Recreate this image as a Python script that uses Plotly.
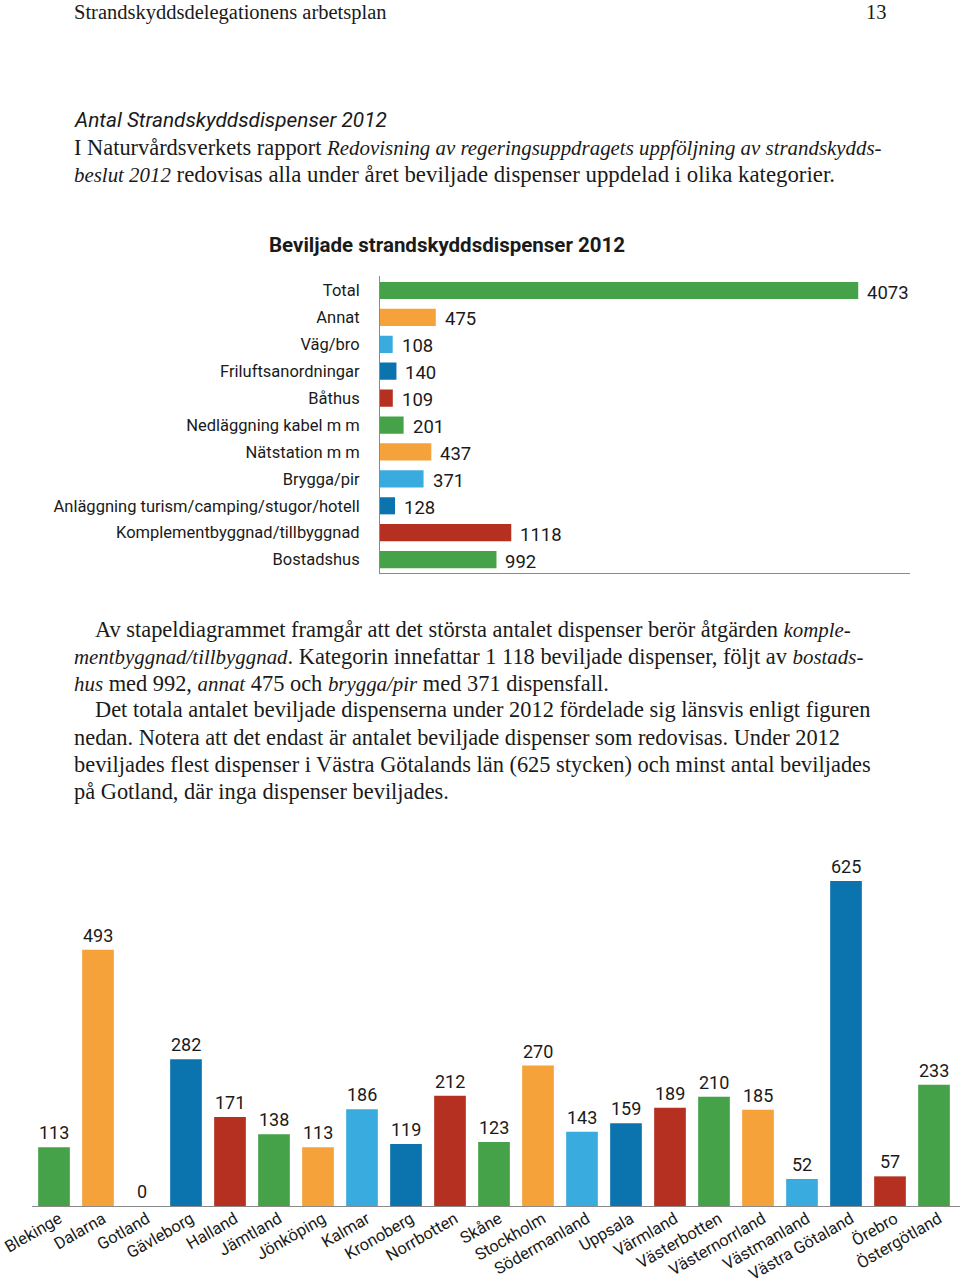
import plotly.graph_objects as go

PAGE_W, PAGE_H = 960, 1281
W, H = PAGE_W, PAGE_H

# ---------------- data ----------------
h_categories = ["Total", "Annat", "Väg/bro", "Friluftsanordningar", "Båthus",
                "Nedläggning kabel m m", "Nätstation m m", "Brygga/pir",
                "Anläggning turism/camping/stugor/hotell",
                "Komplementbyggnad/tillbyggnad", "Bostadshus"]
h_values = [4073, 475, 108, 140, 109, 201, 437, 371, 128, 1118, 992]

v_categories = ["Blekinge", "Dalarna", "Gotland", "Gävleborg", "Halland", "Jämtland",
                "Jönköping", "Kalmar", "Kronoberg", "Norrbotten", "Skåne", "Stockholm",
                "Södermanland", "Uppsala", "Värmland", "Västerbotten", "Västernorrland",
                "Västmanland", "Västra Götaland", "Örebro", "Östergötland"]
v_values = [113, 493, 0, 282, 171, 138, 113, 186, 119, 212, 123, 270,
            143, 159, 189, 210, 185, 52, 625, 57, 233]

GREEN, ORANGE, LBLUE, DBLUE, RED = "#45a248", "#f5a23b", "#3aabdf", "#0b73ae", "#b53020"
h_colors = [GREEN, ORANGE, LBLUE, DBLUE, RED, GREEN, ORANGE, LBLUE, DBLUE, RED, GREEN]
cycle = [GREEN, ORANGE, LBLUE, DBLUE, RED]
v_colors = [cycle[i % 5] for i in range(len(v_categories))]

SANS = "Roboto, Liberation Sans, sans-serif"
SERIF = "Liberation Serif, DejaVu Serif, serif"
TXT = "#1a1a1a"


def fx(px):
    return px / W


def fy(px):
    return 1 - px / H


fig = go.Figure()

# horizontal bar chart
fig.add_trace(go.Bar(
    x=h_values, y=h_categories, orientation="h",
    marker=dict(color=h_colors, line=dict(width=0)),
    xaxis="x", yaxis="y", showlegend=False, hoverinfo="x+y"))

# vertical bar chart
fig.add_trace(go.Bar(
    x=v_categories, y=v_values, width=0.72,
    marker=dict(color=v_colors, line=dict(width=0)),
    xaxis="x2", yaxis="y2", showlegend=False, hoverinfo="x+y"))

annotations = []
# value labels horizontal
for c, v in zip(h_categories, h_values):
    annotations.append(dict(x=v, y=c, xref="x", yref="y", text=str(v),
                            showarrow=False, xanchor="left", yanchor="middle",
                            xshift=7, yshift=-2,
                            font=dict(family=SANS, size=18.5, color=TXT)))
# value labels vertical
for c, v in zip(v_categories, v_values):
    annotations.append(dict(x=c, y=v, xref="x2", yref="y2", text=str(v),
                            showarrow=False, xanchor="center", yanchor="bottom",
                            yshift=2,
                            font=dict(family=SANS, size=18, color=TXT)))


def txt(x, y, s, size=22.4, family=SERIF, anchor="left", color=TXT):
    annotations.append(dict(x=fx(x), y=fy(y), xref="paper", yref="paper", text=s,
                            showarrow=False, xanchor=anchor, yanchor="middle",
                            font=dict(family=family, size=size, color=color)))


def it(s):
    return '<i><span style="font-size:20.9px">' + s + '</span></i>'


txt(72, 12, "Strandskyddsdelegationens arbetsplan", size=20.5)
txt(889, 12, "13", size=20.5, anchor="right")
txt(72, 120, "<i>Antal Strandskyddsdispenser 2012</i>", size=20.8, family=SANS)
txt(72, 147, "I Naturvårdsverkets rapport " + it("Redovisning av regeringsuppdragets uppföljning av strandskydds-"))
txt(72, 174, it("beslut 2012") + " redovisas alla under året beviljade dispenser uppdelad i olika kategorier.", size=22.8)
txt(447, 245, "<b>Beviljade strandskyddsdispenser 2012</b>", size=20.5, family=SANS, anchor="center")

txt(93, 629, "Av stapeldiagrammet framgår att det största antalet dispenser berör åtgärden " + it("komple-"))
txt(72, 656, it("mentbyggnad/tillbyggnad") + ". Kategorin innefattar 1 118 beviljade dispenser, följt av " + it("bostads-"))
txt(72, 683, it("hus") + " med 992, " + it("annat") + " 475 och " + it("brygga/pir") + " med 371 dispensfall.")
txt(93, 710, "Det totala antalet beviljade dispenserna under 2012 fördelade sig länsvis enligt figuren")
txt(72, 737, "nedan. Notera att det endast är antalet beviljade dispenser som redovisas. Under 2012")
txt(72, 764, "beviljades flest dispenser i Västra Götalands län (625 stycken) och minst antal beviljades")
txt(72, 791, "på Gotland, där inga dispenser beviljades.")

# vertical chart: slots are 44 px wide, first bar centre at page x=54
SLOT, FIRST = 44.0, 54.0
V_LEFT, V_RIGHT = 32.0, PAGE_W
v_range = [(V_LEFT - FIRST) / SLOT, (V_RIGHT - FIRST) / SLOT]

fig.update_layout(
    width=W, height=H, margin=dict(l=0, r=0, t=0, b=0, autoexpand=False),
    paper_bgcolor="white", plot_bgcolor="white",
    bargap=0.36,
    annotations=annotations,
    xaxis=dict(domain=[fx(380), fx(910)], range=[0, 4514], showgrid=False,
               zeroline=False, showticklabels=False, ticks="", automargin=False,
               showline=True, linecolor="#8a8a8a", linewidth=1, anchor="y"),
    yaxis=dict(domain=[fy(573), fy(275.5)], categoryorder="array",
               categoryarray=h_categories, autorange="reversed", automargin=False,
               showgrid=False, zeroline=False, ticks="", ticklabelstandoff=16,
               showline=True, linecolor="#8a8a8a", linewidth=1, anchor="x",
               tickfont=dict(family=SANS, size=16.5, color=TXT)),
    xaxis2=dict(domain=[fx(V_LEFT), 1.0], range=v_range, showgrid=False,
                zeroline=False, categoryorder="array", categoryarray=v_categories,
                automargin=False, ticks="", tickangle=-30, showline=True,
                ticklabelshift=5, ticklabelstandoff=-4,
                linecolor="#8a8a8a", linewidth=1, anchor="y2",
                tickfont=dict(family=SANS, size=16.5, color=TXT)),
    yaxis2=dict(domain=[fy(1206), fy(842)], range=[0, 700], showgrid=False,
                zeroline=False, showticklabels=False, ticks="", automargin=False,
                showline=False, anchor="x2"),
)

# remove the browser's default 8 px body margin so the page maps 1:1
fig.write_html("out.html",
               config={"displayModeBar": False},
               post_script="document.body.style.margin='0';"
                           "document.body.style.overflow='hidden';")
